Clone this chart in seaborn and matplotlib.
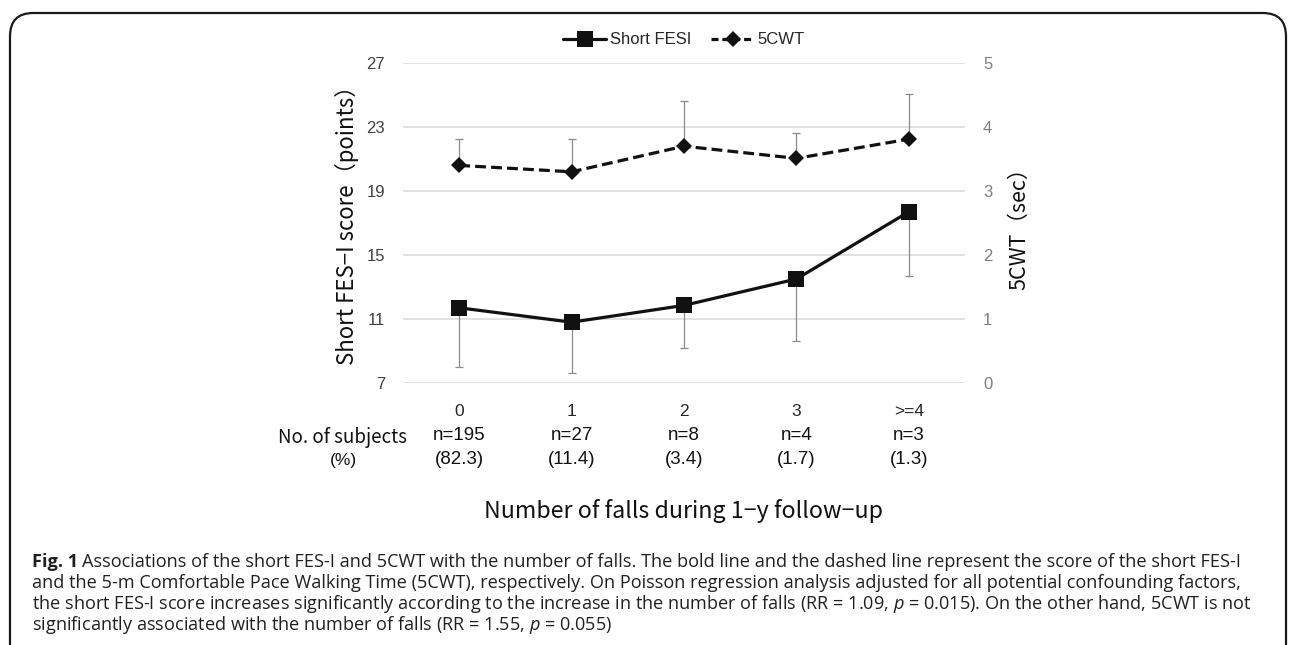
import matplotlib
matplotlib.use("Agg")
import matplotlib.pyplot as plt
import matplotlib.transforms as mtransforms
from matplotlib.patches import FancyBboxPatch
from matplotlib.lines import Line2D
import seaborn as sns
import pandas as pd
import numpy as np

# ---------------- data ----------------
categories = ["0", "1", "2", "3", ">=4"]
n_labels = ["n=195", "n=27", "n=8", "n=4", "n=3"]
pct_labels = ["(82.3)", "(11.4)", "(3.4)", "(1.7)", "(1.3)"]
fesi_mean = [11.7, 10.8, 11.85, 13.5, 17.7]
fesi_err_low = [3.7, 3.2, 2.65, 3.9, 4.0]
cwt_mean = [3.40, 3.30, 3.70, 3.51, 3.81]
cwt_err_up = [0.41, 0.51, 0.71, 0.39, 0.71]
left_ticks = [7, 11, 15, 19, 23, 27]
right_ticks = [0, 1, 2, 3, 4, 5]

W, H = 1292, 645
sns.set_theme(style="white")
plt.rcParams["font.family"] = ["DejaVu Sans"]
plt.rcParams["mathtext.fontset"] = "custom"
plt.rcParams["mathtext.rm"] = "Open Sans"
plt.rcParams["mathtext.it"] = "Open Sans:italic"
plt.rcParams["mathtext.bf"] = "Open Sans:bold"

NARROW = ["Liberation Sans Narrow", "Liberation Sans", "DejaVu Sans"]
CJK = ["Noto Sans CJK JP", "DejaVu Sans"]
CAP = ["Open Sans", "DejaVu Sans"]

fig = plt.figure(figsize=(W / 100, H / 100), dpi=100)
fig.patch.set_facecolor("white")

def fy(py):
    return 1 - py / H

def fx(px):
    return px / W

ax_l, ax_r, ax_t, ax_b = 403, 965, 63, 383
ax = fig.add_axes([fx(ax_l), fy(ax_b), fx(ax_r - ax_l), (ax_b - ax_t) / H])
ax2 = ax.twinx()

df = pd.DataFrame({"pos": np.arange(len(categories)), "fesi": fesi_mean, "cwt": cwt_mean})

# error bars (below lines)
ax.errorbar(df["pos"], df["fesi"], yerr=[fesi_err_low, [0] * len(categories)],
            fmt="none", ecolor="#8a8a8a", elinewidth=0.9, capsize=3, capthick=0.9, zorder=1)
ax2.errorbar(df["pos"], df["cwt"], yerr=[[0] * len(categories), cwt_err_up],
             fmt="none", ecolor="#8a8a8a", elinewidth=0.9, capsize=3, capthick=0.9, zorder=1)

sns.lineplot(data=df, x="pos", y="fesi", ax=ax, color="#111111", linewidth=2.3,
             marker="s", markersize=11, markeredgewidth=0, legend=False, zorder=3)
sns.lineplot(data=df, x="pos", y="cwt", ax=ax2, color="#111111", linewidth=2.3,
             linestyle=(0, (3.4, 1.6)), marker="D", markersize=8, markeredgewidth=0,
             legend=False, zorder=3)

ax.set_xlim(-0.5, len(categories) - 0.5)
ax.set_ylim(7, 27)
ax2.set_ylim(0, 5)
ax.set_yticks(left_ticks)
ax2.set_yticks(right_ticks)
ax.set_xticks(df["pos"])
ax.set_xticklabels(categories)
ax.set_xlabel("")
ax.set_ylabel("")
ax2.set_ylabel("")

ax.yaxis.grid(True, color="#d9d9d9", linewidth=1.1)
ax.xaxis.grid(False)
ax2.grid(False)
for a in (ax, ax2):
    for s in a.spines.values():
        s.set_visible(False)
    a.set_facecolor("none")

ax.tick_params(axis="y", length=0, pad=13, labelcolor="#404040")
ax.tick_params(axis="x", length=0, pad=15, labelcolor="#262626")
ax2.tick_params(axis="y", length=0, pad=13, labelcolor="#7f7f7f")
for lab in ax.get_yticklabels() + ax2.get_yticklabels():
    lab.set_fontfamily(NARROW)
    lab.set_fontsize(12)
for lab in ax.get_xticklabels():
    lab.set_fontfamily(NARROW)
    lab.set_fontsize(12.5)

# y labels
fig.text(fx(347), fy(220), "Short FES−I score（points）", rotation=90, ha="center", va="center",
         fontsize=16, family=CJK, color="#111111")
fig.text(fx(1019), fy(223), "5CWT（sec）", rotation=90, ha="center", va="center",
         fontsize=15.5, family=CJK, color="#111111")

# subjects rows
blend = mtransforms.blended_transform_factory(ax.transData, fig.transFigure)
fig.text(fx(407), fy(437), "No. of subjects", ha="right", va="center", fontsize=13.5,
         family=CJK, color="#111111")
fig.text(fx(343), fy(460), "(%)", ha="center", va="center", fontsize=12.5,
         family=NARROW, color="#111111")
for i in range(len(categories)):
    ax.text(i, fy(436), n_labels[i], transform=blend, ha="center", va="center",
            fontsize=13.5, family=NARROW, color="#111111")
    ax.text(i, fy(459), pct_labels[i], transform=blend, ha="center", va="center",
            fontsize=13.5, family=NARROW, color="#111111")

# x label
fig.text(fx((ax_l + ax_r) / 2), fy(511), "Number of falls during 1−y follow−up", ha="center",
         va="center", fontsize=16.7, family=CJK, color="#111111")

# legend
handles = [
    Line2D([0], [0], color="#111111", lw=2.3, marker="s", markersize=11, markeredgewidth=0),
    Line2D([0], [0], color="#111111", lw=2.3, linestyle=(0, (2.2, 1.2)), marker="D",
           markersize=8, markeredgewidth=0),
]
leg = fig.legend(handles, ["Short FESI", "5CWT"], loc="center",
                 bbox_to_anchor=(fx((ax_l + ax_r) / 2), fy(40)), ncol=2, frameon=False,
                 handlelength=2.6, handletextpad=0.2, columnspacing=1.2,
                 prop={"family": NARROW, "size": 12})

# border
border = FancyBboxPatch((fx(10), fy(680)), fx(1286 - 10), (680 - 13) / H,
                        boxstyle="round,pad=0,rounding_size=0.018",
                        transform=fig.transFigure, fill=False, edgecolor="#1a1a1a",
                        linewidth=1.6, mutation_aspect=W / H)
fig.patches.append(border)

# caption
cap_size = 13.05
cap_color = "#231f20"
x0 = fx(32)
fig.canvas.draw()
renderer = fig.canvas.get_renderer()
t_bold = fig.text(x0, fy(560), "Fig. 1", ha="left", va="center_baseline", fontsize=cap_size,
                  family=CAP, weight="bold", color=cap_color)
bb = t_bold.get_window_extent(renderer=renderer)
fig.text((bb.x1 + 4) / W, fy(560),
         "Associations of the short FES-I and 5CWT with the number of falls. The bold line and the dashed line represent the score of the short FES-I",
         ha="left", va="center_baseline", fontsize=cap_size, family=CAP, color=cap_color)
cap_lines = [
    "and the 5-m Comfortable Pace Walking Time (5CWT), respectively. On Poisson regression analysis adjusted for all potential confounding factors,",
    "the short FES-I score increases significantly according to the increase in the number of falls (RR = 1.09, $p$ = 0.015). On the other hand, 5CWT is not",
    "significantly associated with the number of falls (RR = 1.55, $p$ = 0.055)",
]
for k, line in enumerate(cap_lines):
    fig.text(x0, fy(580.5 + 20.5 * k), line, ha="left", va="center_baseline",
             fontsize=cap_size, family=CAP, color=cap_color)

fig.savefig("out.png", dpi=100)
